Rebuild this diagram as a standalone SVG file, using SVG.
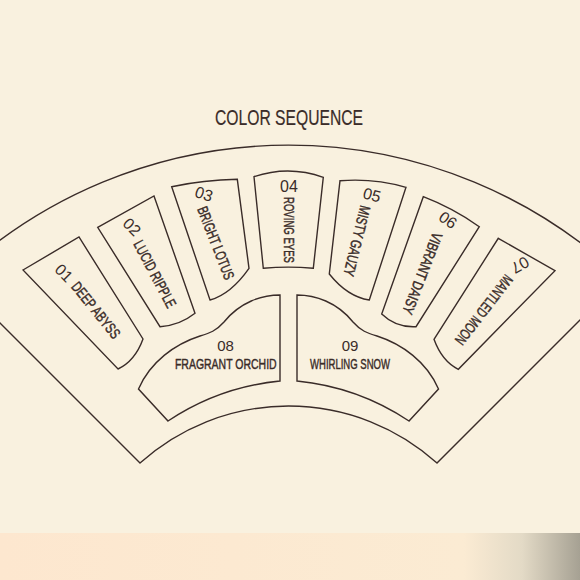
<svg xmlns="http://www.w3.org/2000/svg" width="580" height="580" viewBox="0 0 580 580">
  <defs>
    <linearGradient id="band" x1="0" y1="0" x2="1" y2="0">
      <stop offset="0" stop-color="#fde7cf"/>
      <stop offset="0.8" stop-color="#fbebd3"/>
      <stop offset="0.9" stop-color="#e3dac6"/>
      <stop offset="1" stop-color="#a6a193"/>
    </linearGradient>
    <style>
      .ln { fill: none; stroke: #3a2c29; stroke-width: 1.4; stroke-linejoin: miter; }
      .num { font-family: "Liberation Sans", Arial, sans-serif; font-size: 16px; fill: #3a2c29; text-anchor: middle; }
      .nm { font-family: "Liberation Sans", Arial, sans-serif; font-size: 15px; fill: #3a2c29; text-anchor: middle; stroke: #3a2c29; stroke-width: 0.45; }
      .title { font-family: "Liberation Sans", Arial, sans-serif; font-size: 22px; fill: #3a2c29; text-anchor: middle; stroke: #3a2c29; stroke-width: 0.2; }
    </style>
  </defs>

  <rect x="0" y="0" width="580" height="580" fill="#f9f1df"/>
  <rect x="0" y="533" width="580" height="47" fill="url(#band)"/>

  <text class="title" x="289" y="125" textLength="148" lengthAdjust="spacingAndGlyphs">COLOR SEQUENCE</text>

  <g id="frame">
    <path class="ln" d="M140,463 L-45,278 A485,485 0 0 1 622,278 L437,463 A222,222 0 0 0 140,463 Z"/>
  </g>

  <g id="connectors"></g>

  <g id="slot-01">
    <path class="ln" d="M23,270 L79,237 L143,339 Q135,361 118,369 Z"/>
    <text class="num" transform="translate(64,273) rotate(45)" y="5.5">01</text>
    <text class="nm" transform="translate(96,310) rotate(51)" y="5.3" textLength="68" lengthAdjust="spacingAndGlyphs">DEEP ABYSS</text>
  </g>

  <g id="slot-02">
    <path class="ln" d="M97.7,227.3 L154,196 L195,313.3 Q179.5,325.6 160,326.7 Z"/>
    <text class="num" transform="translate(132,227) rotate(45)" y="5.5">02</text>
    <text class="nm" transform="translate(155,274) rotate(62)" y="5.3" textLength="74" lengthAdjust="spacingAndGlyphs">LUCID RIPPLE</text>
  </g>

  <g id="slot-03">
    <path class="ln" d="M171.7,186.7 Q203.8,180 237.3,179.3 L249,268.3 Q231,294 210,300 Z"/>
    <text class="num" transform="translate(204,194) rotate(18)" y="5.5">03</text>
    <text class="nm" transform="translate(216,243) rotate(68.6)" y="5.3" textLength="77" lengthAdjust="spacingAndGlyphs">BRIGHT LOTUS</text>
  </g>

  <g id="slot-04">
    <path class="ln" d="M254,176.7 Q288.7,165 323.3,177.3 L313.3,268.3 Q288.3,266 263.3,268.3 Z"/>
    <text class="num" transform="translate(289,186)" y="6">04</text>
    <text class="nm" transform="translate(289,230) rotate(90)" y="5.3" textLength="66" lengthAdjust="spacingAndGlyphs">ROVING EYES</text>
  </g>

  <g id="slot-05">
    <path class="ln" d="M340,180.7 Q374,178 406,187.3 L369.3,300 Q347.6,296.8 329.3,274 Z"/>
    <text class="num" transform="translate(372,195) rotate(15)" y="5.5">05</text>
    <text class="nm" transform="translate(357,241) rotate(103.8)" y="5.3" textLength="72" lengthAdjust="spacingAndGlyphs">MISTY GAUZY</text>
  </g>

  <g id="slot-06">
    <path class="ln" d="M423.3,196.7 Q452.8,208 479.3,226.7 L416,326.7 Q396,327.8 381.7,314 Z"/>
    <text class="num" transform="translate(448,220) rotate(35)" y="5.5">06</text>
    <text class="nm" transform="translate(422.5,273.5) rotate(111)" y="5.3" textLength="86" lengthAdjust="spacingAndGlyphs">VIBRANT DAISY</text>
  </g>

  <g id="slot-07">
    <path class="ln" d="M498.3,238.3 L555,270.7 L458.3,369.3 Q442,361.3 434,339.3 Z"/>
    <text class="num" transform="translate(520,265) rotate(150)" y="5.5">07</text>
    <text class="nm" transform="translate(484,310) rotate(127.7)" y="5.3" textLength="84" lengthAdjust="spacingAndGlyphs">MANTLED MOON</text>
  </g>

  <g id="slot-08">
    <path class="ln" d="M280,295 C262,295 240,302 224,322 C216,331 210,333 200,336 C175,344 150,362 138.5,389 L168,421 A245,245 0 0 1 280,381 Z"/>
    <text class="num" x="225.6" y="350.7" style="font-size:15px">08</text>
    <text class="nm" x="225.8" y="369.3" textLength="101.7" lengthAdjust="spacingAndGlyphs">FRAGRANT ORCHID</text>
  </g>

  <g id="slot-09">
    <path class="ln" d="M297,295 C315,295 337,302 353,322 C361,331 367,333 377,336 C402,344 427,362 438.5,389 L409,421 A245,245 0 0 0 297,381 Z"/>
    <text class="num" x="350" y="350.7" style="font-size:15px">09</text>
    <text class="nm" x="350" y="369.3" textLength="80" lengthAdjust="spacingAndGlyphs">WHIRLING SNOW</text>
  </g>
</svg>
